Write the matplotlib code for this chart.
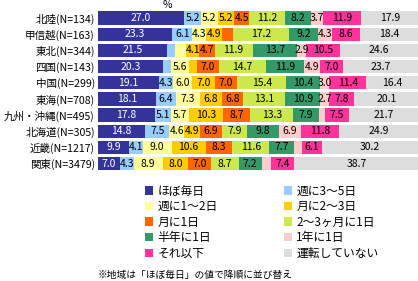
import numpy as np
import matplotlib
matplotlib.use("Agg")
import matplotlib.pyplot as plt

plt.rcParams['font.family'] = ['Noto Sans CJK JP', 'DejaVu Sans']

# regions (top to bottom)
regions = ["北陸(N=134)", "甲信越(N=163)", "東北(N=344)", "四国(N=143)", "中国(N=299)",
           "東海(N=708)", "九州・沖縄(N=495)", "北海道(N=305)", "近畿(N=1217)", "関東(N=3479)"]

categories = ["ほぼ毎日", "週に3〜5日", "週に1〜2日", "月に2〜3日", "月に1日",
              "2〜3ヶ月に1日", "半年に1日", "1年に1日", "それ以下", "運転していない"]

colors = ["#333399", "#99CCFF", "#FFFF99", "#FFCC00", "#FF6600",
          "#CCE84D", "#339966", "#FFCCCC", "#FF3399", "#DDDDDD"]

# % per region, columns follow categories
hokuriku = [27.0, 5.2, 5.2, 5.2, 4.5, 11.2, 8.2, 3.7, 11.9, 17.9]
koshinetsu = [23.3, 6.1, 4.3, 4.9, 3.7, 17.2, 9.2, 4.3, 8.6, 18.4]
tohoku = [21.5, 2.5, 3.6, 4.1, 4.7, 11.9, 13.7, 2.9, 10.5, 24.6]
shikoku = [20.3, 2.4, 5.6, 2.5, 7.0, 14.7, 11.9, 4.9, 7.0, 23.7]
chugoku = [19.1, 4.3, 6.0, 7.0, 7.0, 15.4, 10.4, 3.0, 11.4, 16.4]
tokai = [18.1, 6.4, 7.3, 6.8, 6.8, 13.1, 10.9, 2.7, 7.8, 20.1]
kyushu = [17.8, 5.1, 5.7, 10.3, 8.7, 13.3, 7.9, 2.0, 7.5, 21.7]
hokkaido = [14.8, 7.5, 4.6, 4.9, 6.9, 7.9, 9.8, 6.9, 11.8, 24.9]
kinki = [9.9, 4.1, 9.0, 10.6, 8.3, 11.6, 7.7, 2.5, 6.1, 30.2]
kanto = [7.0, 4.3, 8.9, 8.0, 7.0, 8.7, 7.2, 2.8, 7.4, 38.7]

# (row, category) pairs with no value label in the original
hidden = [(1, 4), (2, 1), (2, 2), (3, 1), (3, 3), (6, 7), (8, 7), (9, 7)]

data = np.array([hokuriku, koshinetsu, tohoku, shikoku, chugoku,
                 tokai, kyushu, hokkaido, kinki, kanto])

fig = plt.figure(figsize=(4.18, 2.81), dpi=100)
ax = fig.add_axes([0.2337, 0.389, 0.768, 0.5754])

y = np.arange(len(regions))
left = np.zeros(len(regions))
bars = []
for k, cat in enumerate(categories):
    vals = data[:, k]
    bc = ax.barh(y, vals, left=left, height=0.83, color=colors[k], label=cat)
    labels = []
    for i, v in enumerate(vals):
        labels.append("" if (i, k) in hidden else f"{v:.1f}")
    ax.bar_label(bc, labels=labels, label_type='center', fontsize=7.5,
                 color='white' if k == 0 else 'black', padding=0)
    bars.append(bc)
    left += vals

ax.set_xlim(0, 100)
ax.set_ylim(-0.5, len(regions) - 0.5)
ax.invert_yaxis()
ax.set_yticks(y)
ax.set_yticklabels(regions, fontsize=7.6)
ax.tick_params(axis='y', length=0, pad=2)
ax.set_xticks([])
for s in ax.spines.values():
    s.set_visible(False)

fig.text(167 / 418, 1 - 5 / 281, "%", fontsize=7.5, ha='center', va='center')

# legend, two columns filled row-wise
order = [0, 2, 4, 6, 8, 1, 3, 5, 7, 9]
handles = [bars[i].patches[0] for i in order]
names = [categories[i] for i in order]
fig.legend(handles, names, ncol=2, loc='upper left',
           bbox_to_anchor=(145 / 418, 1 - 184.5 / 281), frameon=False,
           fontsize=8.5, handlelength=0.7, handleheight=0.7,
           handletextpad=0.35, labelspacing=0.22, columnspacing=5.6,
           borderpad=0, borderaxespad=0)

fig.text(195 / 418, 1 - 275 / 281, "※地域は「ほぼ毎日」の値で降順に並び替え",
         fontsize=7, ha='center', va='center')

fig.savefig("out.png", dpi=100)
